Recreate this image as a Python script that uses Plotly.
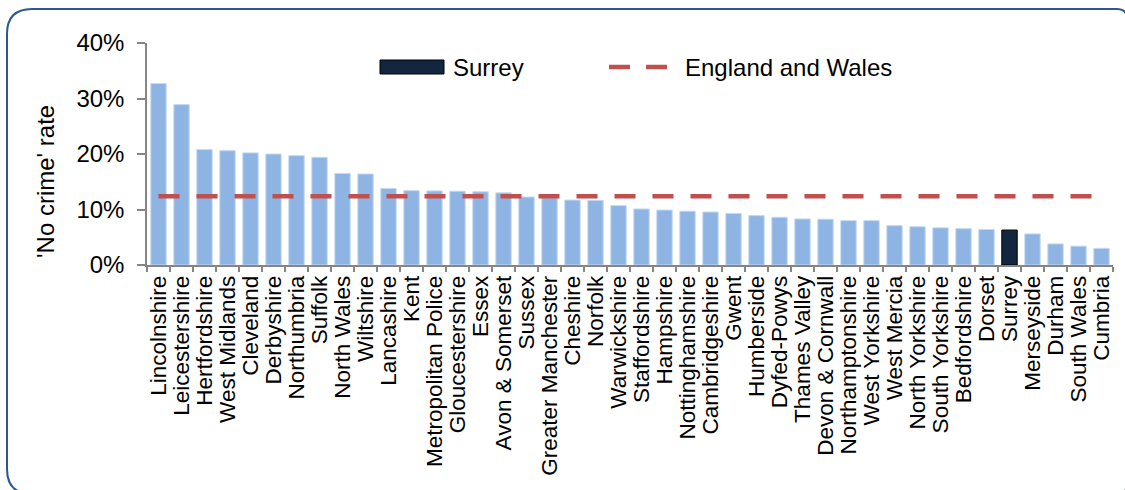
import plotly.graph_objects as go

# ---- data ----
forces = ["Lincolnshire", "Leicestershire", "Hertfordshire", "West Midlands", "Cleveland",
          "Derbyshire", "Northumbria", "Suffolk", "North Wales", "Wiltshire", "Lancashire",
          "Kent", "Metropolitan Police", "Gloucestershire", "Essex", "Avon & Somerset",
          "Sussex", "Greater Manchester", "Cheshire", "Norfolk", "Warwickshire",
          "Staffordshire", "Hampshire", "Nottinghamshire", "Cambridgeshire", "Gwent",
          "Humberside", "Dyfed-Powys", "Thames Valley", "Devon & Cornwall",
          "Northamptonshire", "West Yorkshire", "West Mercia", "North Yorkshire",
          "South Yorkshire", "Bedfordshire", "Dorset", "Surrey", "Merseyside", "Durham",
          "South Wales", "Cumbria"]
no_crime_rate = [0.327, 0.289, 0.208, 0.206, 0.202, 0.200, 0.197, 0.194, 0.165, 0.164,
                 0.138, 0.134, 0.1335, 0.133, 0.132, 0.130, 0.1225, 0.121, 0.117, 0.1165,
                 0.107, 0.101, 0.099, 0.097, 0.0955, 0.093, 0.089, 0.086, 0.083, 0.0825,
                 0.080, 0.080, 0.071, 0.069, 0.067, 0.0655, 0.064, 0.063, 0.056, 0.038,
                 0.034, 0.030]
england_wales_rate = 0.124
highlight = "Surrey"
y_ticks = [0, 0.1, 0.2, 0.3, 0.4]

# ---- styling ----
W, H = 1125, 490
ML, MR, MT, MB = 147, 12, 43, 225
FONT = "Liberation Sans, Arial, sans-serif"
LIGHT, DARK = "#8EB4E3", "#132640"
RED = "#C0504D"
AXIS = "#868686"

pw, ph = W - ML - MR, H - MT - MB


def px(x):
    return (x - ML) / pw


def py(y):
    return (H - MB - y) / ph


bar_colors = [DARK if f == highlight else LIGHT for f in forces]
line_colors = ["#000000" if f == highlight else "#C6D9F1" for f in forces]

fig = go.Figure()
fig.add_trace(go.Bar(x=forces, y=no_crime_rate, name=highlight,
                     marker=dict(color=bar_colors, line=dict(color=line_colors, width=1)),
                     showlegend=False))
fig.add_trace(go.Scatter(x=forces, y=[england_wales_rate] * len(forces), mode="lines",
                         name="England and Wales",
                         line=dict(color=RED, width=4.5, dash="21px,17px"),
                         showlegend=False))

# rounded border (left corners radius rl, right corners radius rr)
rl, rr = 25, 10
x0, x1, y0, y1 = 7, 1127, 9, 494


def P(x, y):
    return f"{px(x):.5f},{py(y):.5f}"


path = (f"M {P(x0 + rl, y0)} L {P(x1 - rr, y0)} Q {P(x1, y0)} {P(x1, y0 + rr)} "
        f"L {P(x1, y1 - rr)} Q {P(x1, y1)} {P(x1 - rr, y1)} L {P(x0 + rl, y1)} "
        f"Q {P(x0, y1)} {P(x0, y1 - rl)} L {P(x0, y0 + rl)} Q {P(x0, y0)} {P(x0 + rl, y0)} Z")

shapes = [
    dict(type="path", xref="paper", yref="paper", path=path,
         line=dict(color="#2C5890", width=2), fillcolor="rgba(0,0,0,0)", layer="below"),
    # legend: Surrey swatch
    dict(type="rect", xref="paper", yref="paper", x0=px(380), x1=px(444), y0=py(60), y1=py(74),
         fillcolor=DARK, line=dict(color="#000000", width=1)),
    # legend: England and Wales dashed line
    dict(type="line", xref="paper", yref="paper", x0=px(609), x1=px(667), y0=py(67), y1=py(67),
         line=dict(color=RED, width=4.5, dash="21px,16px")),
]

annotations = [
    dict(text=highlight, xref="paper", yref="paper", x=px(451), y=py(67), xanchor="left",
         yanchor="middle", showarrow=False, font=dict(size=24, color="#000", family=FONT)),
    dict(text="England and Wales", xref="paper", yref="paper", x=px(683), y=py(67),
         xanchor="left", yanchor="middle", showarrow=False,
         font=dict(size=24, color="#000", family=FONT)),
    dict(text="'No crime' rate", xref="paper", yref="paper", x=px(45), y=py(182),
         xanchor="center", yanchor="middle", textangle=-90, showarrow=False,
         font=dict(size=24, color="#000", family=FONT)),
]

fig.update_layout(
    width=W, height=H,
    margin=dict(l=ML, r=MR, t=MT, b=MB, pad=0),
    paper_bgcolor="white", plot_bgcolor="white",
    font=dict(family=FONT, color="#000"),
    bargap=0.33,
    shapes=shapes, annotations=annotations,
    showlegend=False,
)
fig.update_xaxes(tickmode="array", tickvals=forces, ticktext=forces,
                 showline=True, linecolor=AXIS, linewidth=1.5, ticks="outside",
                 tickson="boundaries", ticklen=5, tickcolor=AXIS, tickwidth=1.5,
                 tickangle=-90, tickfont=dict(size=22.5, family=FONT, color="#000"),
                 showgrid=False, zeroline=False)
fig.update_yaxes(range=[0, 0.4], tickvals=y_ticks, tickformat=".0%", showline=True,
                 linecolor=AXIS, linewidth=1.5, ticks="outside", ticklen=8, tickcolor=AXIS,
                 tickwidth=1.5, tickfont=dict(size=24, family=FONT, color="#000"),
                 ticklabelstandoff=8, showgrid=False, zeroline=False)

fig.write_html("out.html", config={"displayModeBar": False},
               post_script="document.body.style.margin='0';document.body.style.overflow='hidden';")
